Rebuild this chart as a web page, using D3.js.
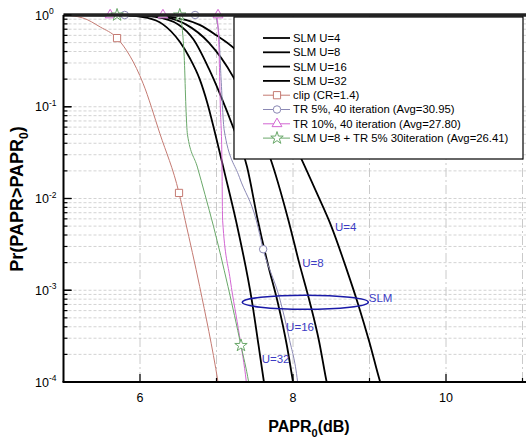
<!DOCTYPE html>
<html>
<head>
<meta charset="utf-8">
<script src="https://cdn.jsdelivr.net/npm/d3@7"></script>
<style>
body { margin: 0; background: #fff; }
svg { font-family: "Liberation Sans", Arial, sans-serif; }
</style>
</head>
<body>
<svg></svg>
<script>
// chart values, [PAPR0 (dB), probability]
var slm4 = [[5.0,1],[6.1,0.993],[6.4,0.955],[6.78,0.78],[7.0,0.60],[7.22,0.44],[7.6,0.17],[7.85,0.076],[8.10,0.028],[8.30,0.012],[8.50,0.005],[8.70,0.0017],[8.85,7.1e-4],[9.0,2.7e-4],[9.14,1e-4],[9.2,7e-5]];
var slm8 = [[5.0,1],[6.0,0.993],[6.3,0.955],[6.6,0.79],[6.9,0.50],[7.22,0.21],[7.45,0.083],[7.70,0.028],[7.94,0.0058],[8.08,0.002],[8.22,7.4e-4],[8.34,2.8e-4],[8.44,1e-4],[8.48,7e-5]];
var slm16 = [[5.0,1],[5.9,0.995],[6.2,0.955],[6.5,0.79],[6.7,0.54],[6.9,0.26],[7.05,0.135],[7.22,0.059],[7.40,0.022],[7.54,0.0058],[7.68,0.0018],[7.80,7.4e-4],[7.92,2.5e-4],[8.0,1e-4],[8.03,7e-5]];
var slm32 = [[5.0,1],[5.8,0.993],[6.1,0.93],[6.3,0.79],[6.52,0.51],[6.65,0.34],[6.78,0.20],[6.88,0.11],[6.98,0.052],[7.1,0.020],[7.28,0.0046],[7.46,7.9e-4],[7.55,2.5e-4],[7.62,1e-4],[7.65,7e-5]];
var clipCurve = [[5.0,1],[5.25,0.93],[5.48,0.74],[5.70,0.56],[6.04,0.18],[6.26,0.051],[6.51,0.0115],[6.59,0.0058],[6.78,0.0011],[7.02,1e-4],[7.05,7e-5]];
var tr5 = [[5.0,1],[6.98,0.98],[7.03,0.63],[7.06,0.2],[7.10,0.056],[7.3,0.017],[7.52,0.0058],[7.61,0.0028],[7.83,7.9e-4],[7.95,3.0e-4],[8.06,1e-4],[8.08,7e-5]];
var tr10 = [[5.0,1],[7.0,0.99],[7.03,0.5],[7.05,0.1],[7.07,0.03],[7.08,0.0058],[7.18,0.0013],[7.30,3.2e-4],[7.39,1e-4],[7.41,7e-5]];
var slmTr = [[5.0,1],[6.52,0.99],[6.56,0.6],[6.58,0.32],[6.60,0.1],[6.62,0.05],[6.75,0.022],[6.85,0.011],[6.96,0.005],[7.15,0.0011],[7.32,2.5e-4],[7.42,1e-4],[7.45,7e-5]];

// marker positions
var clipMarks = [[5.70,0.56],[6.51,0.0115]];
var tr5Marks = [[5.80,1],[6.72,1],[7.61,0.0028]];
var tr10Marks = [[5.61,1],[6.30,1],[7.02,1]];
var slmTrMarks = [[5.70,1],[6.52,1],[7.32,2.5e-4]];

var legendLabels = ["SLM U=4","SLM U=8","SLM U=16","SLM U=32","clip (CR=1.4)","TR 5%, 40 iteration (Avg=30.95)","TR 10%, 40 iteration (Avg=27.80)","SLM U=8 + TR 5% 30iteration (Avg=26.41)"];
var xTickLabels = [6, 8, 10];
var xGrid = [6, 7, 8, 9, 10, 11];
var yDecades = [0, -1, -2, -3, -4];

// annotations [x, p, text]
var notes = [[8.55,0.0049,"U=4"],[8.12,0.0020,"U=8"],[7.91,4.0e-4,"U=16"],[7.59,1.8e-4,"U=32"],[8.99,8.2e-4,"SLM"]];

var width = 526;
var height = 439;
var plotLeft = 63.5;
var plotTop = 15;
var plotBottom = 382;

var svg = d3.select("svg")
	.attr("width", width)
	.attr("height", height);

var xScale = d3.scaleLinear()
	.domain([5, 11.1])
	.range([plotLeft, plotLeft + 6.1 * 76.5]);

var yScale = d3.scaleLog()
	.domain([1e-4, 1])
	.range([plotBottom, plotTop]);

var plotRight = xScale(11.1);

svg.append("defs").append("clipPath")
	.attr("id", "plot")
	.append("rect")
	.attr("x", plotLeft)
	.attr("y", plotTop)
	.attr("width", plotRight - plotLeft)
	.attr("height", plotBottom - plotTop);

// grid
var minorVals = [];
yDecades.forEach(k => {
	for (var m = 1; m < 10; m++) {
		var v = m * Math.pow(10, k);
		if (v < 1 && v > 1e-4) minorVals.push(v);
	}
});

svg.append("g")
	.selectAll("line")
	.data(minorVals)
	.enter().append("line")
	.attr("x1", plotLeft)
	.attr("x2", plotRight)
	.attr("y1", d => yScale(d))
	.attr("y2", d => yScale(d))
	.attr("stroke", "#c8c8c8")
	.attr("stroke-width", 0.8)
	.attr("stroke-dasharray", "3,2");

svg.append("g")
	.selectAll("line")
	.data(xGrid)
	.enter().append("line")
	.attr("x1", d => xScale(d))
	.attr("x2", d => xScale(d))
	.attr("y1", plotTop)
	.attr("y2", plotBottom)
	.attr("stroke", "#c4c4c4")
	.attr("stroke-width", 0.9)
	.attr("stroke-dasharray", "9,3,2,3");

// curves
var line = d3.line()
	.x(d => xScale(d[0]))
	.y(d => yScale(d[1]))
	.curve(d3.curveMonotoneX);

var series = [
	{data: slm4, color: "#000", w: 1.8},
	{data: slm8, color: "#000", w: 1.8},
	{data: slm16, color: "#000", w: 1.8},
	{data: slm32, color: "#000", w: 1.8},
	{data: clipCurve, color: "#c47a72", w: 1, marks: clipMarks, sym: d3.symbolSquare},
	{data: tr5, color: "#8a88b4", w: 1, marks: tr5Marks, sym: d3.symbolCircle},
	{data: tr10, color: "#d266d2", w: 1, marks: tr10Marks, sym: d3.symbolTriangle},
	{data: slmTr, color: "#6aa86a", w: 1, marks: slmTrMarks, sym: d3.symbolStar}
];

var curves = svg.append("g").attr("clip-path", "url(#plot)");

curves.selectAll("path")
	.data(series)
	.enter().append("path")
	.attr("d", d => line(d.data))
	.attr("fill", "none")
	.attr("stroke", d => d.color)
	.attr("stroke-width", d => d.w);

function marker(sym) {
	var s = sym === d3.symbolStar ? 48 : sym === d3.symbolTriangle ? 42 : sym === d3.symbolCircle ? 44 : 52;
	return d3.symbol().type(sym).size(s);
}

series.filter(s => s.marks).forEach(s => {
	svg.append("g")
		.selectAll("path")
		.data(s.marks)
		.enter().append("path")
		.attr("transform", d => `translate(${xScale(d[0])},${yScale(d[1])})`)
		.attr("d", marker(s.sym))
		.attr("fill", "#fff")
		.attr("stroke", s.color)
		.attr("stroke-width", 1);
});

// annotations
svg.append("g")
	.selectAll("text")
	.data(notes)
	.enter().append("text")
	.attr("x", d => xScale(d[0]))
	.attr("y", d => yScale(d[1]))
	.attr("dy", "0.35em")
	.style("font-size", "11.5px")
	.style("fill", "#3c3cc4")
	.text(d => d[2]);

svg.append("ellipse")
	.attr("cx", xScale(8.16))
	.attr("cy", yScale(7.4e-4))
	.attr("rx", 63)
	.attr("ry", 7)
	.attr("fill", "none")
	.attr("stroke", "#1a1aa8")
	.attr("stroke-width", 1.6);

// frame
svg.append("line")
	.attr("x1", plotLeft).attr("x2", width)
	.attr("y1", plotTop).attr("y2", plotTop)
	.attr("stroke", "#222").attr("stroke-width", 3.5);
svg.append("line")
	.attr("x1", plotLeft).attr("x2", plotLeft)
	.attr("y1", plotTop).attr("y2", plotBottom)
	.attr("stroke", "#000").attr("stroke-width", 2);
svg.append("line")
	.attr("x1", plotLeft - 1).attr("x2", width)
	.attr("y1", plotBottom).attr("y2", plotBottom)
	.attr("stroke", "#000").attr("stroke-width", 2);

// x ticks
svg.append("g")
	.selectAll("line")
	.data(xGrid)
	.enter().append("line")
	.attr("x1", d => xScale(d))
	.attr("x2", d => xScale(d))
	.attr("y1", plotBottom)
	.attr("y2", d => plotBottom - (d % 2 === 0 ? 8 : 4))
	.attr("stroke", "#000")
	.attr("stroke-width", 1.2);

svg.append("g")
	.selectAll("text")
	.data(xTickLabels)
	.enter().append("text")
	.attr("x", d => xScale(d))
	.attr("y", 402)
	.style("font-size", "12.5px")
	.style("text-anchor", "middle")
	.text(d => d);

// y ticks
svg.append("g")
	.selectAll("line")
	.data(minorVals.concat(yDecades.map(k => Math.pow(10, k))))
	.enter().append("line")
	.attr("x1", plotLeft)
	.attr("x2", d => plotLeft + (Math.abs(Math.log10(d) - Math.round(Math.log10(d))) < 1e-9 ? 8 : 4))
	.attr("y1", d => yScale(d))
	.attr("y2", d => yScale(d))
	.attr("stroke", "#000")
	.attr("stroke-width", 1.2);

var yLab = svg.append("g")
	.selectAll("text")
	.data(yDecades)
	.enter().append("text")
	.attr("x", 35)
	.attr("y", d => yScale(Math.pow(10, d)) + 4.5)
	.style("font-size", "12.5px");
yLab.append("tspan").text("10");
yLab.append("tspan")
	.attr("dy", -5.5)
	.style("font-size", "8.5px")
	.text(d => d === 0 ? "0" : "-" + Math.abs(d));

// axis titles
var xt = svg.append("text")
	.attr("x", 309)
	.attr("y", 432)
	.style("font-size", "16px")
	.style("font-weight", "bold")
	.style("text-anchor", "middle");
xt.append("tspan").text("PAPR");
xt.append("tspan").attr("dy", 5).style("font-size", "11px").text("0");
xt.append("tspan").attr("dy", -5).text("(dB)");

var yt = svg.append("text")
	.attr("transform", "translate(23,199) rotate(-90)")
	.style("font-size", "18px")
	.style("font-weight", "bold")
	.style("text-anchor", "middle");
yt.append("tspan").text("Pr(PAPR>PAPR");
yt.append("tspan").attr("dy", 5).style("font-size", "12px").text("0");
yt.append("tspan").attr("dy", -5).text(")");

// legend
var legend = svg.append("g");
legend.append("rect")
	.attr("x", 234)
	.attr("y", 17)
	.attr("width", 289)
	.attr("height", 142)
	.attr("fill", "#fff")
	.attr("stroke", "#000")
	.attr("stroke-width", 1.2);

var rows = legend.selectAll("g.row")
	.data(series)
	.enter().append("g")
	.attr("class", "row")
	.attr("transform", (d, i) => `translate(0,${38 + i * 14.3})`);

rows.append("line")
	.attr("x1", 263).attr("x2", 290)
	.attr("y1", 0).attr("y2", 0)
	.attr("stroke", d => d.color)
	.attr("stroke-width", d => d.w);

rows.filter(d => d.sym)
	.append("path")
	.attr("transform", "translate(277,0)")
	.attr("d", d => marker(d.sym)())
	.attr("fill", "#fff")
	.attr("stroke", d => d.color);

rows.append("text")
	.attr("x", 293)
	.attr("dy", "0.35em")
	.style("font-size", "11.3px")
	.text((d, i) => legendLabels[i]);
</script>
</body>
</html>
